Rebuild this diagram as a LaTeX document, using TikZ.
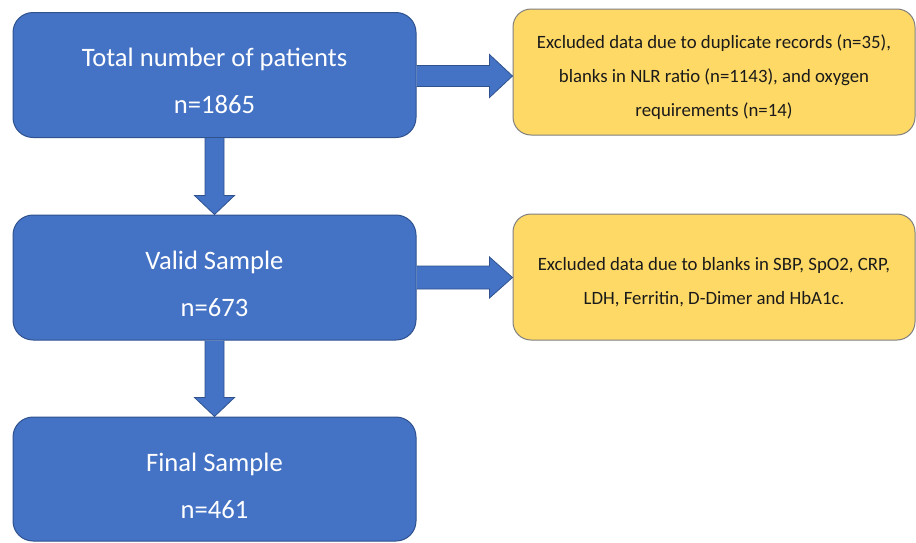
\documentclass[tikz,border=0pt]{standalone}
\usepackage{fontspec}
\setmainfont{Carlito}
\usetikzlibrary{calc}
\definecolor{boxblue}{HTML}{4472C4}
\definecolor{blueedge}{HTML}{2F528F}
\definecolor{boxyellow}{HTML}{FFD966}
\definecolor{yellowedge}{HTML}{7F7F7F}
\definecolor{darktext}{HTML}{1A1A1A}
\tikzset{
  bluebox/.style={draw=blueedge, line width=1pt, fill=boxblue, rounded corners=20pt,
    minimum width=403pt, inner sep=0pt, text=white, align=center,
    font=\fontsize{26.6}{47}\selectfont},
  yellowbox/.style={draw=yellowedge, line width=1pt, fill=boxyellow, rounded corners=18pt,
    minimum width=402pt, minimum height=126pt, inner sep=0pt, text=darktext, align=center,
    font=\fontsize{18.8}{34}\selectfont},
  blockarrow/.style={draw=blueedge, line width=0.8pt, fill=boxblue, line join=miter}
}
\begin{document}
\begin{tikzpicture}[x=1pt,y=-1pt]
\useasboundingbox (0,0) rectangle (916,542);
\fill[white] (0,0) rectangle (916,542);
\node[bluebox, minimum height=125pt] (b1) at (214.5,75) {};
\node[bluebox, minimum height=125pt] (b2) at (214.5,277.5) {};
\node[bluebox, minimum height=124pt] (b3) at (214.5,479) {};
\node[yellowbox] (y1) at (714,72) {};
\node[yellowbox] (y2) at (714,277) {};
\node[bluebox, draw=none, fill=none, minimum height=0pt] (b1t) at ($(b1.center)+(0,5.5)$) {Total number of patients\\n=1865};
\node[bluebox, draw=none, fill=none, minimum height=0pt] (b2t) at ($(b2.center)+(0,6.5)$) {Valid Sample\\n=673};
\node[bluebox, draw=none, fill=none, minimum height=0pt] (b3t) at ($(b3.center)+(0,7)$) {Final Sample\\n=461};
\node[yellowbox, draw=none, fill=none, minimum height=0pt] (y1t) at ($(y1.center)+(0,5)$) {Excluded data due to duplicate records (n=35),\\blanks in NLR ratio (n=1143), and oxygen\\requirements (n=14)};
\node[yellowbox, draw=none, fill=none, minimum height=0pt] (y2t) at ($(y2.center)+(0,5.5)$) {Excluded data due to blanks in SBP, SpO2, CRP,\\LDH, Ferritin, D-Dimer and HbA1c.};
% down arrows
\draw[blockarrow] ($(b1.south)+(-9.5,0)$) -- ($(b2.north)+(-9.5,-19)$) -- ($(b2.north)+(-20,-19)$)
  -- (b2.north) -- ($(b2.north)+(20,-19)$) -- ($(b2.north)+(9.5,-19)$) -- ($(b1.south)+(9.5,0)$);
\draw[blockarrow] ($(b2.south)+(-9.5,0)$) -- ($(b3.north)+(-9.5,-19)$) -- ($(b3.north)+(-20,-19)$)
  -- (b3.north) -- ($(b3.north)+(20,-19)$) -- ($(b3.north)+(9.5,-19)$) -- ($(b2.south)+(9.5,0)$);
% right arrows
\coordinate (t1) at (y1.west |- 0,76);
\coordinate (s1) at (b1.east |- 0,76);
\draw[blockarrow] ($(s1)+(0,-10.5)$) -- ($(t1)+(-23,-10.5)$) -- ($(t1)+(-23,-21.5)$) -- (t1)
  -- ($(t1)+(-23,21.5)$) -- ($(t1)+(-23,10.5)$) -- ($(s1)+(0,10.5)$);
\coordinate (t2) at (y2.west |- 0,277.5);
\coordinate (s2) at (b2.east |- 0,277.5);
\draw[blockarrow] ($(s2)+(0,-11.5)$) -- ($(t2)+(-23,-11.5)$) -- ($(t2)+(-23,-20.5)$) -- (t2)
  -- ($(t2)+(-23,20.5)$) -- ($(t2)+(-23,11.5)$) -- ($(s2)+(0,11.5)$);
\end{tikzpicture}
\end{document}
